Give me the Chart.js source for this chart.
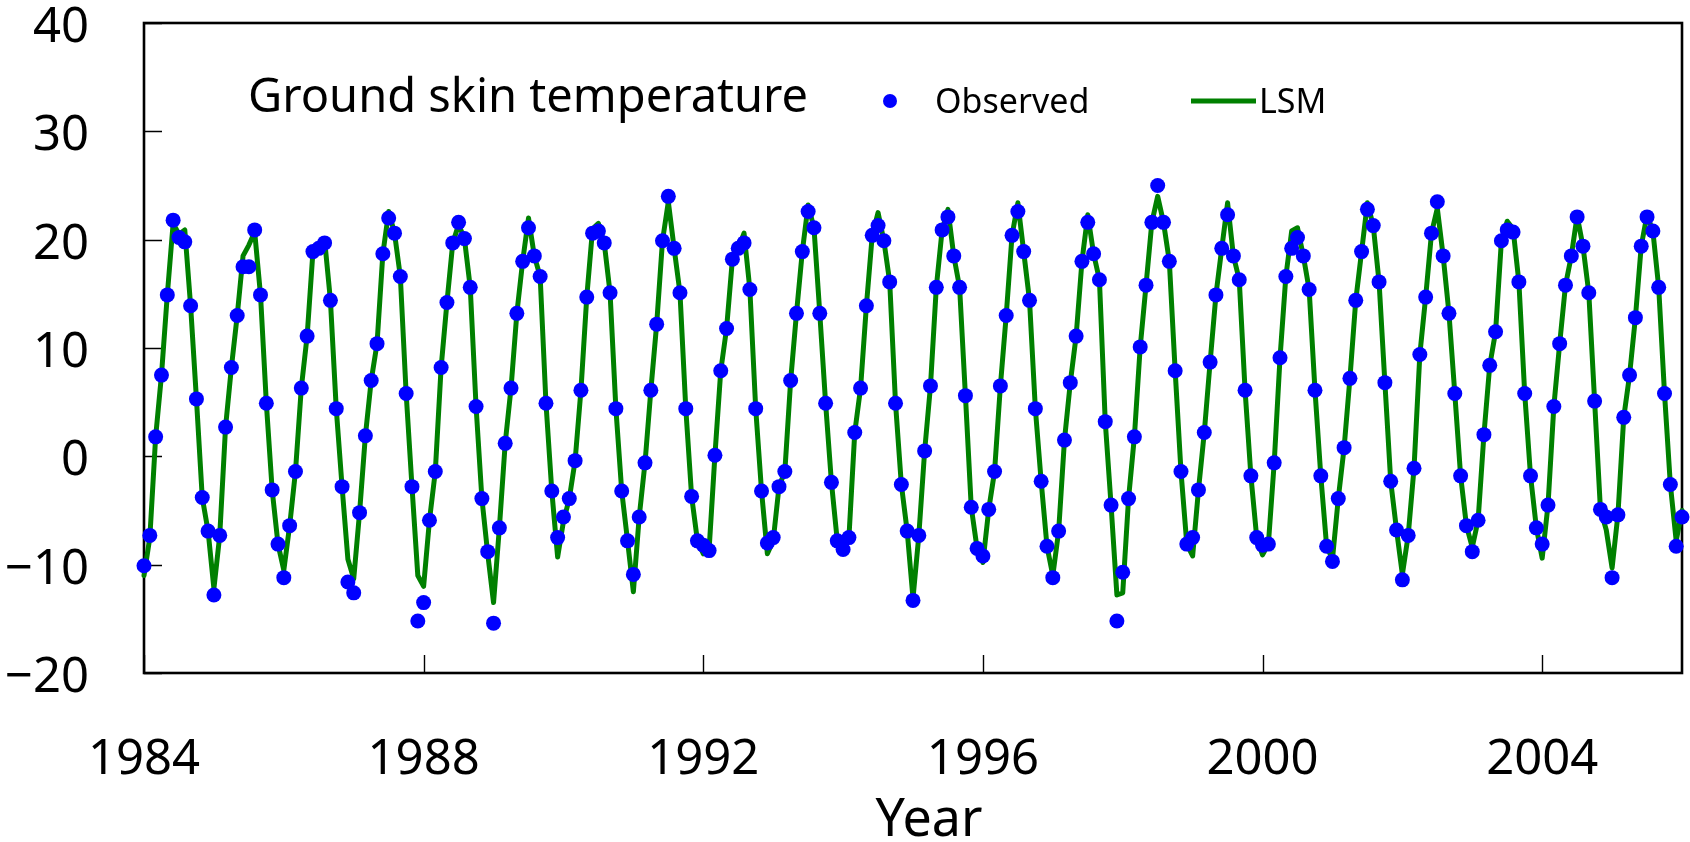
<!DOCTYPE html>
<html>
<head>
<meta charset="utf-8">
<script src="https://cdn.jsdelivr.net/npm/chart.js@4.4.1/dist/chart.umd.min.js"></script>
<style>
html,body{margin:0;padding:0;background:#ffffff;}
#wrap{width:1690px;height:842px;position:relative;}
</style>
</head>
<body>
<div id="wrap"><canvas id="c" width="1690" height="842"></canvas></div>
<script>
// ---- data (monthly, starting January 1984) ----
const startYear = 1984;

const observed = [
 -10.1, -7.3, 1.8, 7.5, 14.9, 21.8, 20.2, 19.8, 13.9, 5.3, -3.8, -6.9,
 -12.8, -7.3, 2.7, 8.2, 13.0, 17.5, 17.5, 20.9, 14.9, 4.9, -3.1, -8.1,
 -11.2, -6.4, -1.4, 6.3, 11.1, 18.9, 19.2, 19.7, 14.4, 4.4, -2.8, -11.6,
 -12.6, -5.2, 1.9, 7.0, 10.4, 18.7, 22.0, 20.6, 16.6, 5.8, -2.8, -15.2,
 -13.5, -5.9, -1.4, 8.2, 14.2, 19.7, 21.6, 20.1, 15.6, 4.6, -3.9, -8.8,
 -15.4, -6.6, 1.2, 6.3, 13.2, 18.0, 21.1, 18.5, 16.6, 4.9, -3.2, -7.5,
 -5.6, -3.9, -0.4, 6.1, 14.7, 20.6, 20.8, 19.7, 15.1, 4.4, -3.2, -7.8,
 -10.9, -5.6, -0.6, 6.1, 12.2, 19.9, 24.0, 19.2, 15.1, 4.4, -3.7, -7.8,
 -8.2, -8.7, 0.1, 7.9, 11.8, 18.2, 19.2, 19.7, 15.4, 4.4, -3.2, -8.0,
 -7.5, -2.8, -1.4, 7.0, 13.2, 18.9, 22.6, 21.1, 13.2, 4.9, -2.4, -7.8,
 -8.6, -7.5, 2.2, 6.3, 13.9, 20.4, 21.3, 19.9, 16.1, 4.9, -2.6, -6.9,
 -13.3, -7.3, 0.5, 6.5, 15.6, 20.9, 22.1, 18.5, 15.6, 5.6, -4.7, -8.5,
 -9.2, -4.9, -1.4, 6.5, 13.0, 20.4, 22.6, 18.9, 14.4, 4.4, -2.3, -8.3,
 -11.2, -6.9, 1.5, 6.8, 11.1, 18.0, 21.6, 18.7, 16.3, 3.2, -4.5, -15.2,
 -10.7, -3.9, 1.8, 10.1, 15.8, 21.6, 25.0, 21.6, 18.0, 7.9, -1.4, -8.1,
 -7.5, -3.1, 2.2, 8.7, 14.9, 19.2, 22.3, 18.5, 16.3, 6.1, -1.8, -7.5,
 -8.2, -8.1, -0.6, 9.1, 16.6, 19.2, 20.2, 18.5, 15.4, 6.1, -1.8, -8.3,
 -9.7, -3.9, 0.8, 7.2, 14.4, 18.9, 22.8, 21.3, 16.1, 6.8, -2.3, -6.8,
 -11.4, -7.3, -1.1, 9.4, 14.7, 20.6, 23.5, 18.5, 13.2, 5.8, -1.8, -6.4,
 -8.8, -5.9, 2.0, 8.4, 11.5, 19.9, 20.9, 20.7, 16.1, 5.8, -1.8, -6.6,
 -8.1, -4.5, 4.6, 10.4, 15.8, 18.5, 22.1, 19.4, 15.1, 5.1, -4.9, -5.6,
 -11.2, -5.4, 3.6, 7.5, 12.8, 19.4, 22.1, 20.8, 15.6, 5.8, -2.6, -8.3,
 -5.6
];

const lsm = [
 -11.0, -7.5, 1.8, 7.5, 14.9, 21.5, 20.5, 20.9, 13.9, 5.3, -3.8, -6.9,
 -12.2, -7.3, 2.7, 8.2, 13.0, 18.5, 19.5, 20.7, 14.9, 4.9, -3.1, -8.1,
 -10.5, -6.4, -1.4, 6.3, 11.1, 18.9, 19.5, 20.0, 14.4, 4.4, -2.8, -9.5,
 -11.3, -5.2, 1.9, 7.0, 10.4, 18.7, 22.6, 20.6, 16.6, 5.8, -2.8, -11.0,
 -12.0, -5.9, -1.4, 8.2, 14.2, 19.7, 21.4, 20.1, 15.6, 4.6, -3.9, -9.0,
 -13.5, -6.6, 1.2, 6.3, 13.2, 18.0, 22.0, 18.5, 16.6, 4.9, -3.2, -9.3,
 -6.0, -3.9, -0.4, 6.1, 14.7, 21.0, 21.5, 19.7, 15.1, 4.4, -3.2, -7.8,
 -12.5, -5.6, -0.6, 6.1, 12.2, 19.9, 23.5, 19.2, 15.1, 4.4, -3.7, -7.8,
 -9.0, -8.6, 0.1, 7.9, 11.8, 18.2, 19.2, 20.6, 15.4, 4.4, -3.2, -9.0,
 -7.8, -2.8, -1.4, 7.0, 13.2, 18.9, 23.2, 21.1, 13.2, 4.9, -2.4, -7.8,
 -8.9, -7.5, 2.2, 6.3, 13.9, 20.4, 22.5, 19.9, 16.1, 4.9, -2.6, -6.9,
 -13.1, -7.3, 0.5, 6.5, 15.6, 20.9, 22.8, 18.5, 15.6, 5.6, -4.7, -8.5,
 -9.8, -4.9, -1.4, 6.5, 13.0, 20.4, 23.4, 18.9, 14.4, 4.4, -2.3, -8.3,
 -11.0, -6.9, 1.5, 6.8, 11.1, 18.0, 22.3, 18.7, 16.3, 3.2, -4.5, -12.8,
 -12.6, -3.9, 1.8, 10.1, 15.8, 21.6, 24.0, 21.6, 18.0, 7.9, -1.4, -8.1,
 -9.2, -3.1, 2.2, 8.7, 14.9, 19.2, 23.4, 18.5, 16.3, 6.1, -1.8, -7.5,
 -9.1, -8.1, -0.6, 9.1, 16.6, 20.8, 21.1, 18.5, 15.4, 6.1, -1.8, -8.3,
 -9.5, -3.9, 0.8, 7.2, 14.4, 18.9, 23.4, 21.3, 16.1, 6.8, -2.3, -6.8,
 -10.9, -7.3, -1.1, 9.4, 14.7, 20.6, 22.9, 18.5, 13.2, 5.8, -1.8, -6.4,
 -8.4, -5.9, 2.0, 8.4, 11.5, 19.9, 21.7, 21.0, 16.1, 5.8, -1.8, -6.6,
 -9.4, -4.5, 4.6, 10.4, 15.8, 18.5, 22.2, 19.4, 15.1, 5.1, -4.9, -6.8,
 -10.3, -5.4, 3.6, 7.5, 12.8, 19.4, 22.3, 20.8, 15.6, 5.8, -2.6, -7.8,
 -5.0, 0.8
];

const xTickYears = [1984, 1988, 1992, 1996, 2000, 2004];
const yTickValues = [-20, -10, 0, 10, 20, 30, 40];
const yTickLabels = ['\u221220', '\u221210', '0', '10', '20', '30', '40'];
const chartTitle = 'Ground skin temperature';
const seriesNames = ['Observed', 'LSM'];
const xAxisTitle = 'Year';

// ---- build chart ----
const toPoints = arr => arr.map((v, i) => ({ x: startYear + i / 12, y: v }));
const FONT = '"Noto Sans", "Liberation Sans", Arial, sans-serif';

const decor = {
  id: 'decor',
  beforeDatasetsDraw(chart) {
    const { ctx, chartArea: a, scales: { x, y } } = chart;
    ctx.save();
    ctx.strokeStyle = '#000';
    ctx.lineWidth = 1.4;
    ctx.beginPath();
    x.ticks.forEach(t => {
      const px = Math.round(x.getPixelForValue(t.value)) + 0.5;
      ctx.moveTo(px, a.bottom); ctx.lineTo(px, a.bottom - 18);
    });
    y.ticks.forEach(t => {
      const py = Math.round(y.getPixelForValue(t.value)) + 0.5;
      ctx.moveTo(a.left, py); ctx.lineTo(a.left + 18, py);
    });
    ctx.stroke();
    ctx.lineWidth = 2.6;
    ctx.strokeRect(a.left, a.top, a.right - a.left, a.bottom - a.top);
    ctx.restore();
  },
  afterDraw(chart) {
    const { ctx } = chart;
    ctx.save();
    ctx.fillStyle = '#000';
    ctx.textBaseline = 'alphabetic';
    ctx.textAlign = 'left';
    ctx.font = '47px ' + FONT;
    ctx.fillText(chartTitle, 248, 112);
    // legend
    ctx.fillStyle = '#0000ff';
    ctx.beginPath(); ctx.arc(890, 101, 7, 0, Math.PI * 2); ctx.fill();
    ctx.fillStyle = '#000';
    ctx.font = '34px ' + FONT;
    ctx.fillText(seriesNames[0], 935, 113);
    ctx.strokeStyle = '#008000';
    ctx.lineWidth = 5;
    ctx.beginPath(); ctx.moveTo(1191, 101); ctx.lineTo(1256, 101); ctx.stroke();
    ctx.fillText(seriesNames[1], 1259, 113);
    // x-axis title
    ctx.textAlign = 'center';
    ctx.font = '52px ' + FONT;
    ctx.fillText(xAxisTitle, 929, 836);
    ctx.restore();
  }
};

new Chart(document.getElementById('c'), {
  type: 'scatter',
  data: {
    datasets: [
      {
        label: seriesNames[0],
        data: toPoints(observed),
        showLine: false,
        pointRadius: 7.5,
        pointHoverRadius: 7.5,
        pointBackgroundColor: '#0000ff',
        pointBorderColor: '#0000ff',
        pointBorderWidth: 0,
        order: 0,
        clip: false
      },
      {
        label: seriesNames[1],
        data: toPoints(lsm),
        showLine: true,
        borderColor: '#008000',
        borderWidth: 5,
        borderJoinStyle: 'round',
        borderCapStyle: 'round',
        pointRadius: 0,
        tension: 0,
        order: 1,
        clip: false
      }
    ]
  },
  options: {
    responsive: false,
    devicePixelRatio: 1,
    animation: false,
    layout: { padding: { left: 0, top: 23, right: 8, bottom: 0 } },
    plugins: { legend: { display: false }, tooltip: { enabled: false }, title: { display: false } },
    scales: {
      x: {
        type: 'linear',
        min: 1984,
        max: 2006,
        grid: { display: false },
        border: { display: false },
        afterBuildTicks: s => { s.ticks = xTickYears.map(v => ({ value: v })); },
        afterFit: s => { s.height = 169; s.paddingLeft = 0; s.paddingRight = 0; },
        ticks: {
          color: '#000',
          padding: 50,
          maxRotation: 0,
          autoSkip: false,
          font: { family: FONT, size: 49, lineHeight: 1.2 },
          callback: v => String(v)
        },
        title: { display: false }
      },
      y: {
        type: 'linear',
        min: -20,
        max: 40,
        grid: { display: false },
        border: { display: false },
        afterBuildTicks: s => { s.ticks = yTickValues.map(v => ({ value: v })); },
        afterFit: s => { s.width = 144; s.paddingTop = 0; s.paddingBottom = 0; },
        ticks: {
          color: '#000',
          padding: 47,
          labelOffset: 5,
          autoSkip: false,
          font: { family: FONT, size: 49, lineHeight: 1.0 },
          callback: v => yTickLabels[yTickValues.indexOf(v)]
        }
      }
    }
  },
  plugins: [decor]
});
</script>
</body>
</html>
